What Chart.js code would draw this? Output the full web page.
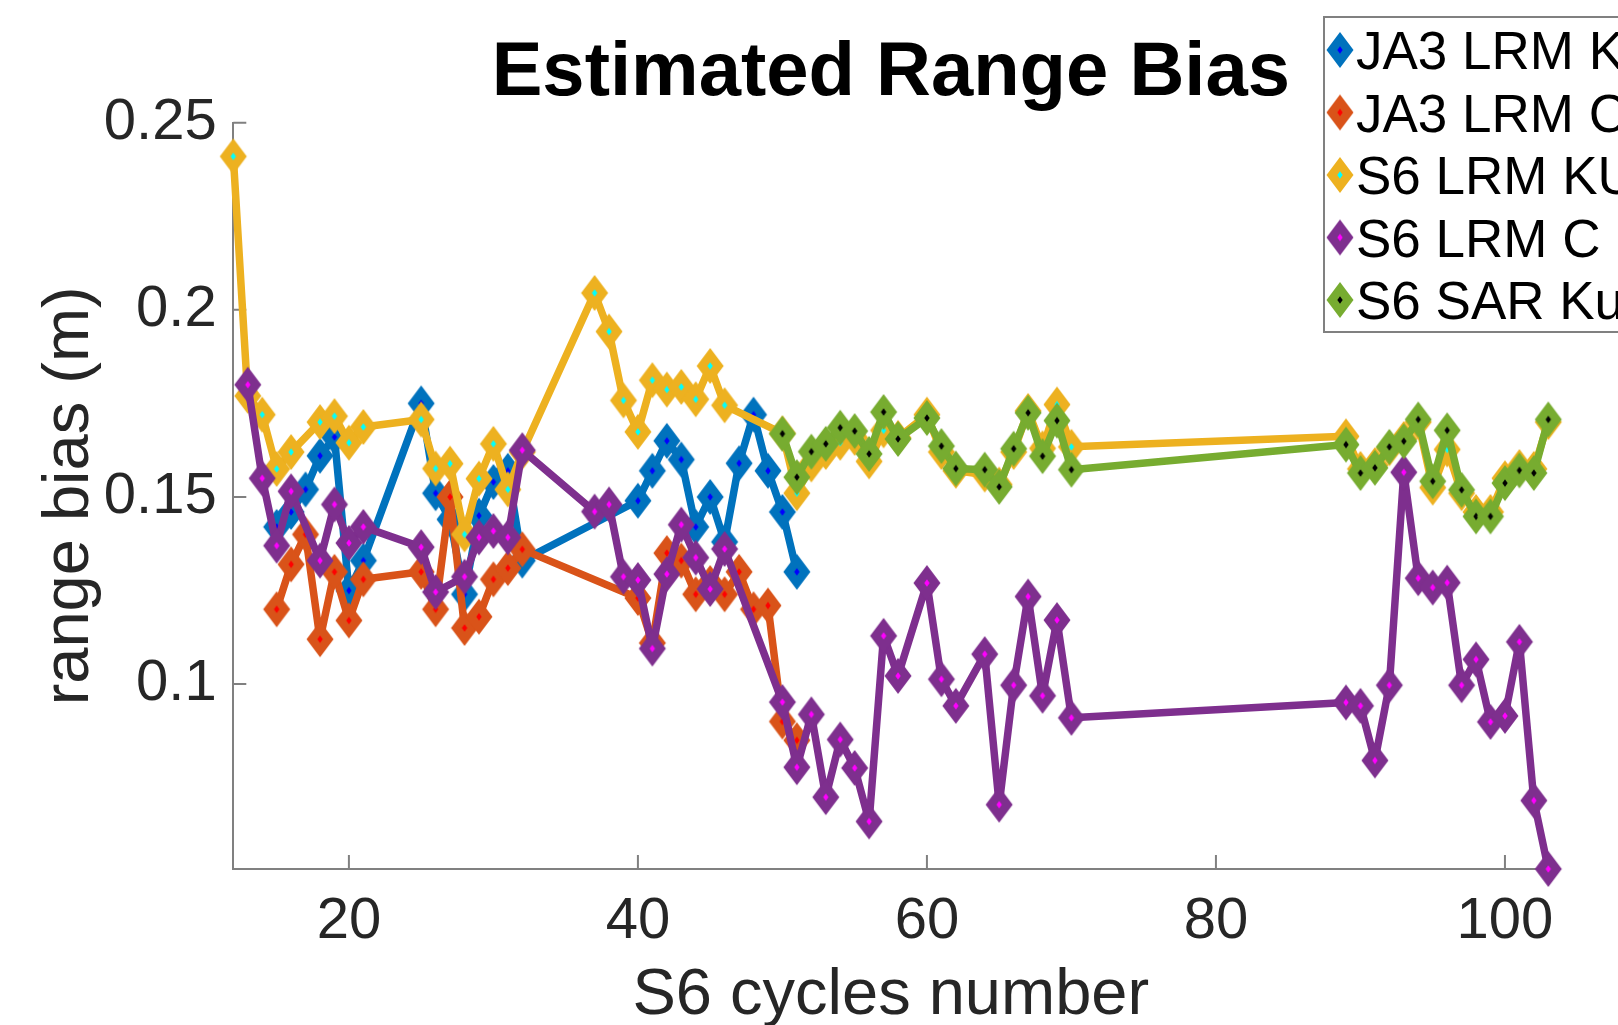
<!DOCTYPE html>
<html>
<head>
<meta charset="utf-8">
<title>Estimated Range Bias</title>
<script src="https://cdn.jsdelivr.net/npm/chart.js@4.4.1/dist/chart.umd.min.js"></script>
<style>
  html, body { margin: 0; padding: 0; background: #fff; overflow: hidden; }
  #wrap { width: 1618px; height: 1025px; }
</style>
</head>
<body>
<div id="wrap"><canvas id="myChart" width="1618" height="1025"></canvas></div>
<script>
// values (S6 cycle -> range bias in m)
const jaCycles = [15, 16, 17, 18, 19, 20, 21, 25, 26, 27, 28, 29, 30, 31, 32,
  40, 41, 42, 43, 44, 45, 46, 47, 48, 49, 50, 51];
const ja3KuBias = [0.142, 0.146, 0.152, 0.161, 0.166, 0.125, 0.133, 0.175, 0.151, 0.144, 0.124, 0.145, 0.154, 0.157, 0.133,
  0.149, 0.157, 0.165, 0.160, 0.142, 0.150, 0.138, 0.159, 0.172, 0.157, 0.146, 0.130];
const ja3CBias = [0.120, 0.132, 0.140, 0.112, 0.130, 0.117, 0.128, 0.130, 0.120, 0.150, 0.115, 0.118, 0.128, 0.131, 0.136,
  0.123, 0.111, 0.135, 0.133, 0.124, 0.127, 0.124, 0.130, 0.120, 0.121, 0.090, 0.085];

const s6KuCycles = [12, 13, 14, 15, 16, 18, 19, 20, 21, 25, 26, 27, 28, 29, 30, 31, 32,
  37, 38, 39, 40, 41, 42, 43, 44, 45, 46,
  50, 51, 52, 53, 54, 55, 56, 57, 58, 60, 61, 62, 64, 65, 66, 67, 68, 69, 70,
  89, 90, 91, 92, 93, 94, 95, 96, 97, 98, 99, 100, 101, 102, 103];
const s6LrmKuBias = [0.241, 0.177, 0.172, 0.1575, 0.162, 0.170, 0.1716, 0.1645, 0.1687, 0.1707, 0.1576, 0.1589, 0.140, 0.1549, 0.1642, 0.152, 0.162,
  0.2045, 0.1942, 0.1758, 0.1674, 0.1812, 0.1787, 0.1794, 0.1761, 0.185, 0.1745,
  0.167, 0.151, 0.1587, 0.162, 0.1645, 0.1658, 0.1595, 0.1678, 0.1658, 0.172, 0.162, 0.157, 0.156, 0.1533, 0.162, 0.173, 0.163, 0.1747, 0.1634,
  0.1662, 0.1575, 0.1585, 0.163, 0.1655, 0.170, 0.1525, 0.1627, 0.151, 0.146, 0.146, 0.155, 0.158, 0.1575, 0.170];

const s6CCycles = [13, 14, 15, 16, 18, 19, 20, 21, 25, 26, 28, 29, 30, 31, 32,
  37, 38, 39, 40, 41, 42, 43, 44, 45, 46,
  50, 51, 52, 53, 54, 55, 56, 57, 58, 60, 61, 62, 64, 65, 66, 67, 68, 69, 70,
  89, 90, 91, 92, 93, 94, 95, 96, 97, 98, 99, 100, 101, 102, 103];
const s6LrmCBias = [0.180, 0.155, 0.137, 0.1515, 0.133, 0.148, 0.1377, 0.142, 0.1366, 0.1246, 0.1287, 0.1392, 0.1409, 0.1392, 0.1625,
  0.1461, 0.148, 0.1287, 0.1278, 0.1095, 0.1294, 0.1426, 0.1338, 0.1254, 0.1361,
  0.0952, 0.0778, 0.0919, 0.0698, 0.0852, 0.0776, 0.0633, 0.1129, 0.1022, 0.1270, 0.1013, 0.0942, 0.1080, 0.0678, 0.0997, 0.1234, 0.0969, 0.1171, 0.0910,
  0.0951, 0.0942, 0.0796, 0.0997, 0.1566, 0.1283, 0.1258, 0.1271, 0.0997, 0.1066, 0.0899, 0.0915, 0.1113, 0.0689, 0.0506];

const sarCycles = [50, 51, 52, 53, 54, 55, 56, 57, 58, 60, 61, 62, 64, 65, 66, 67, 68, 69, 70,
  89, 90, 91, 92, 93, 94, 95, 96, 97, 98, 99, 100, 101, 102, 103];
const s6SarKuBias = [0.1669, 0.1553, 0.1621, 0.1642, 0.1685, 0.1676, 0.1615, 0.1727, 0.1655, 0.1711, 0.1636, 0.1576, 0.1573, 0.1527, 0.1629, 0.1725, 0.1609, 0.1704, 0.1573,
  0.1640, 0.1564, 0.1578, 0.1634, 0.1649, 0.1707, 0.1542, 0.1678, 0.1519, 0.1448, 0.1448, 0.1537, 0.1571, 0.1564, 0.1707];

const seriesNames = ["JA3 LRM Ku", "JA3 LRM C", "S6 LRM KU", "S6 LRM C", "S6 SAR Ku"];
const xTicks = [20, 40, 60, 80, 100];
const yTicks = [0.1, 0.15, 0.2, 0.25];

const lineColors = ["#0072BD", "#D95319", "#EDB120", "#7E2F8E", "#77AC30"];
const faceColors = ["#0000FF", "#FF0000", "#00FFFF", "#FF00FF", "#000000"];
const FONT = "'Liberation Sans', Arial, Helvetica, sans-serif";
const AXIS = "#808080";

Chart.defaults.font.family = FONT;

// matlab style diamond: wide edge, tiny face
function diamond(edge, face) {
  const c = document.createElement("canvas");
  c.width = 30;
  c.height = 38;
  const g = c.getContext("2d");
  g.fillStyle = edge;
  g.beginPath();
  g.moveTo(15, 1); g.lineTo(28.5, 19); g.lineTo(15, 37); g.lineTo(1.5, 19);
  g.closePath();
  g.fill();
  g.fillStyle = face;
  g.beginPath();
  g.moveTo(15, 15.3); g.lineTo(17.7, 19); g.lineTo(15, 22.7); g.lineTo(12.3, 19);
  g.closePath();
  g.fill();
  return c;
}

function pts(xs, ys) {
  return xs.map((x, i) => ({ x: x, y: ys[i] }));
}

const seriesData = [
  pts(jaCycles, ja3KuBias),
  pts(jaCycles, ja3CBias),
  pts(s6KuCycles, s6LrmKuBias),
  pts(s6CCycles, s6LrmCBias),
  pts(sarCycles, s6SarKuBias)
];

const datasets = seriesData.map((d, i) => ({
  label: seriesNames[i],
  data: d,
  borderColor: lineColors[i],
  backgroundColor: lineColors[i],
  borderWidth: 7.5,
  borderJoinStyle: "round",
  borderCapStyle: "round",
  pointStyle: diamond(lineColors[i], faceColors[i]),
  pointRadius: 14,
  tension: 0,
  clip: false,
  order: 5 - i
}));

const inwardTicks = {
  id: "inwardTicks",
  beforeDatasetsDraw(chart) {
    const { ctx, chartArea, scales } = chart;
    ctx.save();
    ctx.strokeStyle = AXIS;
    ctx.lineWidth = 2;
    ctx.beginPath();
    scales.x.ticks.forEach(t => {
      const px = scales.x.getPixelForValue(t.value);
      ctx.moveTo(px, chartArea.bottom);
      ctx.lineTo(px, chartArea.bottom - 14);
    });
    scales.y.ticks.forEach(t => {
      const py = scales.y.getPixelForValue(t.value);
      ctx.moveTo(chartArea.left, py);
      ctx.lineTo(chartArea.left + 13, py);
    });
    ctx.stroke();
    ctx.restore();
  }
};

// legend box sits top right and runs off the canvas like the original
const legendBox = {
  id: "legendBox",
  afterDraw(chart) {
    const ctx = chart.ctx;
    ctx.save();
    ctx.fillStyle = "#fff";
    ctx.fillRect(1324, 17, 400, 315);
    ctx.strokeStyle = AXIS;
    ctx.lineWidth = 2;
    ctx.strokeRect(1324, 17, 400, 315);
    ctx.font = "53px " + FONT;
    ctx.fillStyle = "#000";
    ctx.textBaseline = "alphabetic";
    chart.data.datasets.forEach((ds, i) => {
      const cy = 50 + i * 62.5;
      ctx.drawImage(ds.pointStyle, 1340 - 15, cy - 19);
      ctx.fillText(ds.label, 1356, cy + 19);
    });
    ctx.restore();
  }
};

const ctx = document.getElementById("myChart");
new Chart(ctx, {
  type: "line",
  data: { datasets: datasets },
  plugins: [inwardTicks, legendBox],
  options: {
    responsive: false,
    animation: false,
    devicePixelRatio: 1,
    layout: { padding: { left: 0, right: 69.7, top: 0, bottom: 0 } },
    plugins: {
      legend: { display: false },
      tooltip: { enabled: false },
      title: {
        display: true,
        text: "Estimated Range Bias",
        color: "#000",
        fullSize: false,
        font: { size: 76, weight: "bold", lineHeight: 1.2 },
        padding: { top: 28, bottom: 3.5 }
      }
    },
    scales: {
      x: {
        type: "linear",
        min: 12,
        max: 103,
        afterBuildTicks: s => { s.ticks = xTicks.map(v => ({ value: v })); },
        afterFit: s => { s.height = 156; },
        grid: { display: true, drawOnChartArea: false, drawTicks: false },
        border: { display: true, color: AXIS, width: 2 },
        ticks: {
          font: { size: 58 },
          color: "#262626",
          padding: 18.5,
          maxRotation: 0,
          autoSkip: false,
          callback: v => String(v)
        },
        title: {
          display: true,
          text: "S6 cycles number",
          color: "#262626",
          font: { size: 65, lineHeight: 0.8 },
          padding: { top: 0, bottom: 2.5 }
        }
      },
      y: {
        type: "linear",
        min: 0.0506,
        max: 0.25,
        afterBuildTicks: s => { s.ticks = yTicks.map(v => ({ value: v })); },
        afterFit: s => { s.width = 233.3; },
        grid: { display: true, drawOnChartArea: false, drawTicks: false },
        border: { display: true, color: AXIS, width: 2 },
        ticks: {
          font: { size: 58 },
          color: "#262626",
          padding: 16.6,
          autoSkip: false,
          callback: v => String(v)
        },
        title: {
          display: true,
          text: "range bias (m)",
          color: "#262626",
          font: { size: 65, lineHeight: 1.2 },
          padding: { top: 31, bottom: 0 }
        }
      }
    }
  }
});
</script>
</body>
</html>
